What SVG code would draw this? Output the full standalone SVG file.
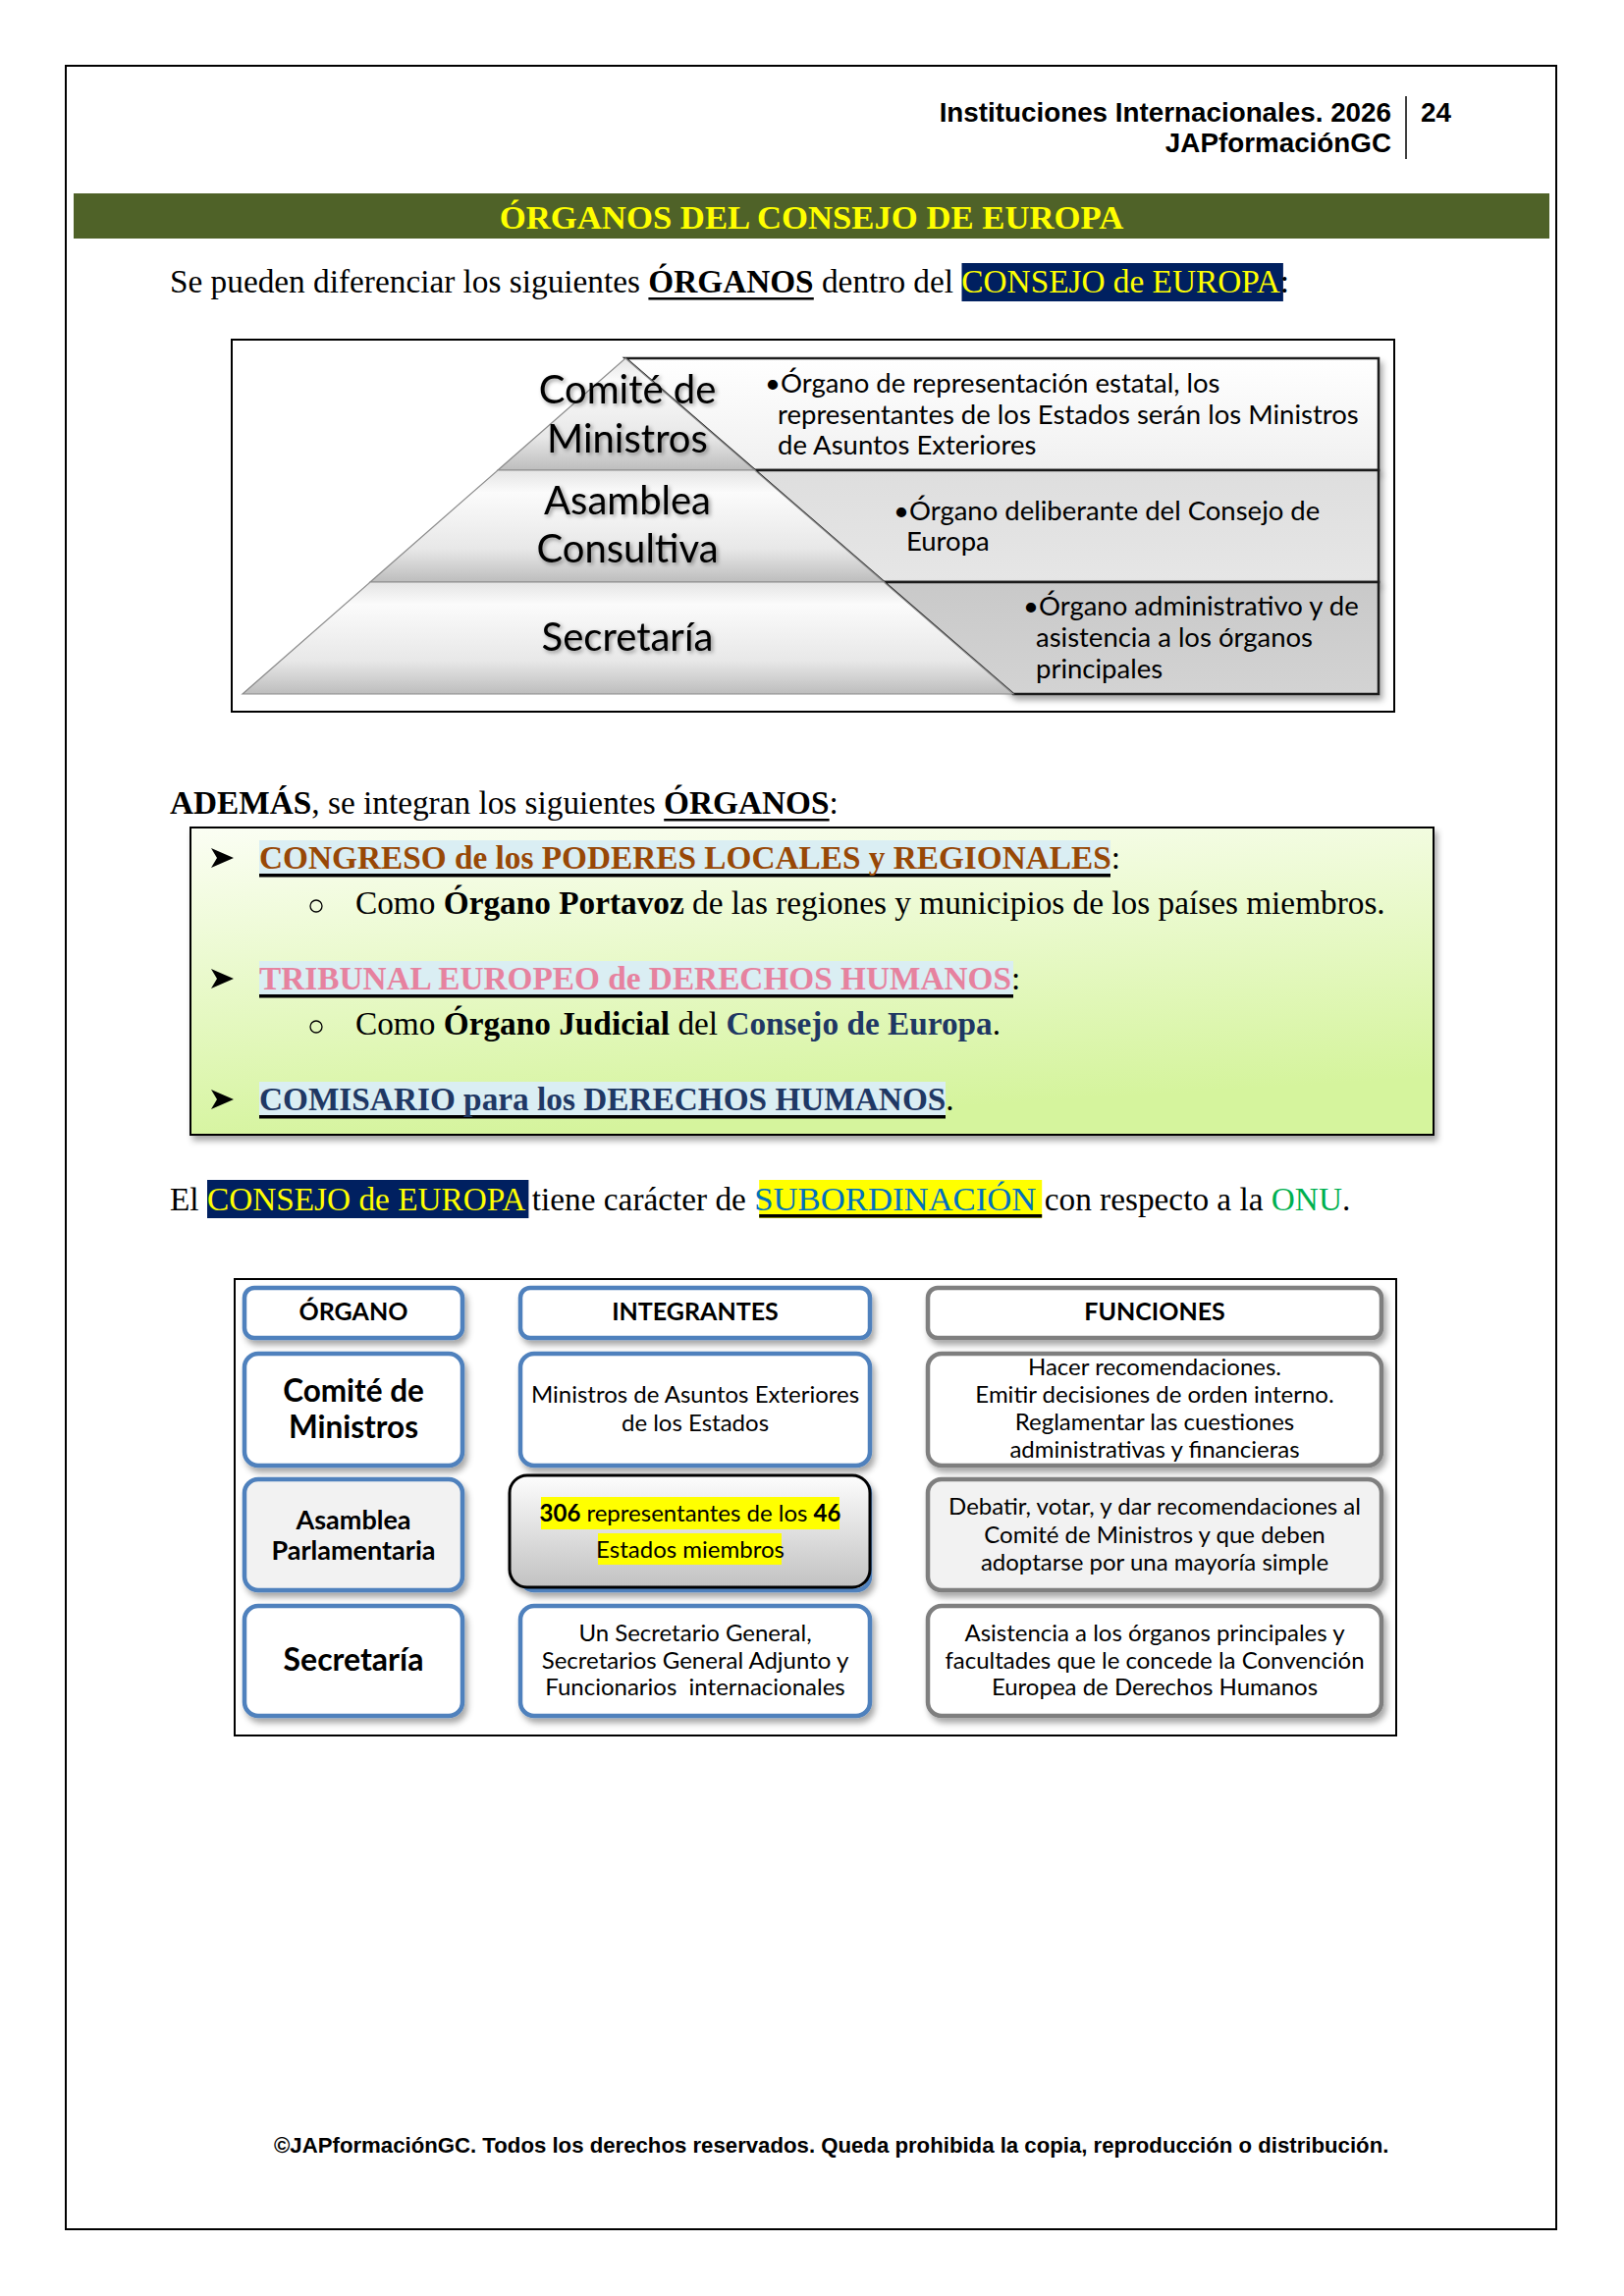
<svg xmlns="http://www.w3.org/2000/svg" width="1654" height="2339" viewBox="0 0 1654 2339">
<defs>
<style>
.hdr{font-family:"Liberation Sans",Arial,sans-serif;font-weight:bold;font-size:27.8px;fill:#000}
.ftr{font-family:"Liberation Sans",Arial,sans-serif;font-weight:bold;font-size:22.2px;fill:#000}
.ser{font-family:"Liberation Serif","Times New Roman",serif;font-size:33.3px;fill:#000}
.b{font-weight:bold}
.pyr{font-family:Lato,"Open Sans",sans-serif;font-size:40px;fill:#000;text-anchor:middle}
.desc{font-family:Lato,"Open Sans",sans-serif;font-size:27.5px;fill:#000}
.th{font-family:Lato,"Open Sans",sans-serif;font-size:25px;font-weight:bold;fill:#000;text-anchor:middle}
.tb{font-family:Lato,"Open Sans",sans-serif;font-weight:bold;fill:#000;text-anchor:middle}
.tr{font-family:Lato,"Open Sans",sans-serif;font-size:24px;fill:#000;text-anchor:middle}
.blue{fill:#fff;stroke:#4f81bd;stroke-width:4.5}
.gray{fill:#fff;stroke:#7f7f7f;stroke-width:4.5}
.lay{stroke:#8c8c8c;stroke-width:1.2}
.rbox{stroke:#1a1a1a;stroke-width:2.5}
.bul{fill:none;stroke:#000;stroke-width:1.3}
</style>
<linearGradient id="gGreen" x1="0" y1="0" x2="0.25" y2="1">
<stop offset="0" stop-color="#fbfef4"/>
<stop offset="1" stop-color="#d5f49d"/>
</linearGradient>
<linearGradient id="gLayer" x1="0" y1="0" x2="0" y2="1">
<stop offset="0" stop-color="#e4e4e4"/>
<stop offset="0.2" stop-color="#fbfbfb"/>
<stop offset="0.7" stop-color="#e8e8e8"/>
<stop offset="1" stop-color="#bdbdbd"/>
</linearGradient>
<linearGradient id="gB1" x1="0" y1="0" x2="0" y2="1">
<stop offset="0" stop-color="#ffffff"/>
<stop offset="1" stop-color="#f0f0f0"/>
</linearGradient>
<linearGradient id="gB2" x1="0" y1="0" x2="0" y2="1">
<stop offset="0" stop-color="#dedede"/>
<stop offset="1" stop-color="#e6e6e6"/>
</linearGradient>
<linearGradient id="gB3" x1="0" y1="0" x2="0" y2="1">
<stop offset="0" stop-color="#c9c9c9"/>
<stop offset="1" stop-color="#d3d3d3"/>
</linearGradient>
<linearGradient id="gCell" x1="0" y1="0" x2="0" y2="1">
<stop offset="0" stop-color="#fdfdfd"/>
<stop offset="1" stop-color="#c2c2c2"/>
</linearGradient>
<filter id="sh" x="-10%" y="-10%" width="125%" height="140%">
<feDropShadow dx="3" dy="5" stdDeviation="3" flood-color="#000" flood-opacity="0.35"/>
</filter>
<filter id="tsh" x="-10%" y="-20%" width="125%" height="150%">
<feDropShadow dx="2" dy="2" stdDeviation="2" flood-color="#000" flood-opacity="0.4"/>
</filter>
</defs>

<rect x="0" y="0" width="1654" height="2339" fill="#fff"/>
<rect x="67" y="67" width="1518" height="2204" fill="none" stroke="#000" stroke-width="2"/>

<g id="header">
<text class="hdr" x="1417" y="124" text-anchor="end">Instituciones Internacionales. 2026</text>
<text class="hdr" x="1417" y="155" text-anchor="end">JAPformaciónGC</text>
<line x1="1432" y1="98" x2="1432" y2="162" stroke="#000" stroke-width="1.5"/>
<text class="hdr" x="1447" y="124">24</text>
</g>

<g id="banner">
<rect x="75" y="197" width="1503" height="46" fill="#4f6228"/>
<text x="826.5" y="233" text-anchor="middle" font-family="'Liberation Serif','Times New Roman',serif" font-weight="bold" font-size="34.7" fill="#ffff00">ÓRGANOS DEL CONSEJO DE EUROPA</text>
</g>

<g id="intro">
<rect x="979.5" y="268" width="327.4" height="39" fill="#002060"/>
<rect x="660.4" y="303" width="168.4" height="2.5" fill="#000"/>
<text class="ser" x="173" y="298">Se pueden diferenciar los siguientes <tspan class="b">ÓRGANOS</tspan> dentro del <tspan fill="#ffff00">CONSEJO de EUROPA</tspan>:</text>
</g>

<g id="pyramid">
<rect x="236" y="346" width="1184" height="379" fill="#fff" stroke="#000" stroke-width="2"/>
<g id="box-comite" filter="url(#sh)">
<polygon class="rbox" points="637,365 1404,365 1404,479 768.7,479" fill="url(#gB1)"/>
</g>
<g id="box-asamblea" filter="url(#sh)">
<polygon class="rbox" points="768.7,479 1404,479 1404,593 900.3,593" fill="url(#gB2)"/>
</g>
<g id="box-secretaria" filter="url(#sh)">
<polygon class="rbox" points="900.3,593 1404,593 1404,707 1032,707" fill="url(#gB3)"/>
</g>
<g id="layer-comite">
<polygon class="lay" points="637,365 768.7,479 507,479" fill="url(#gLayer)"/>
</g>
<g id="layer-asamblea">
<polygon class="lay" points="507,479 768.7,479 900.3,593 377,593" fill="url(#gLayer)"/>
</g>
<g id="layer-secretaria">
<polygon class="lay" points="377,593 900.3,593 1032,707 247,707" fill="url(#gLayer)"/>
</g>
<g filter="url(#tsh)">
<text class="pyr" x="639" y="411">Comité de</text>
<text class="pyr" x="639" y="461">Ministros</text>
<text class="pyr" x="639" y="524">Asamblea</text>
<text class="pyr" x="639" y="573">Consultiva</text>
<text class="pyr" x="639" y="663">Secretaría</text>
</g>
<text class="desc" x="779" y="400">•Órgano de representación estatal, los</text>
<text class="desc" x="792" y="432">representantes de los Estados serán los Ministros</text>
<text class="desc" x="792" y="463">de Asuntos Exteriores</text>
<text class="desc" x="910" y="530">•Órgano deliberante del Consejo de</text>
<text class="desc" x="923" y="561">Europa</text>
<text class="desc" x="1042" y="627">•Órgano administrativo y de</text>
<text class="desc" x="1055" y="659">asistencia a los órganos</text>
<text class="desc" x="1055" y="691">principales</text>
</g>

<g id="ademas">
<rect x="676.2" y="834" width="168.4" height="2.5" fill="#000"/>
<text class="ser" x="173" y="829"><tspan class="b">ADEMÁS</tspan>, se integran los siguientes <tspan class="b">ÓRGANOS</tspan>:</text>
</g>

<g id="organos-list">
<rect x="194" y="843" width="1266" height="313" fill="url(#gGreen)" stroke="#000" stroke-width="2" filter="url(#sh)"/>
<g id="item-congreso">
<polygon points="215,864 238,874 215,884 221,874" fill="#000"/>
<rect x="264" y="856" width="867" height="37" fill="#daeef3"/>
<rect x="264" y="890" width="867" height="3.5" fill="#000"/>
<text class="ser b" x="264" y="885"><tspan fill="#984806">CONGRESO de los PODERES LOCALES y REGIONALES</tspan><tspan font-weight="normal">:</tspan></text>
<circle class="bul" cx="322" cy="923" r="6"/>
<text class="ser" x="362" y="931">Como <tspan class="b">Órgano Portavoz</tspan> de las regiones y municipios de los países miembros.</text>
</g>
<g id="item-tribunal">
<polygon points="215,987 238,997 215,1007 221,997" fill="#000"/>
<rect x="264" y="979" width="768" height="37" fill="#daeef3"/>
<rect x="264" y="1013" width="768" height="3.5" fill="#000"/>
<text class="ser b" x="264" y="1008"><tspan fill="#e6829f">TRIBUNAL EUROPEO de DERECHOS HUMANOS</tspan><tspan font-weight="normal">:</tspan></text>
<circle class="bul" cx="322" cy="1046" r="6"/>
<text class="ser" x="362" y="1054">Como <tspan class="b">Órgano Judicial</tspan> del <tspan class="b" fill="#1f3864">Consejo de Europa</tspan>.</text>
</g>
<g id="item-comisario">
<polygon points="215,1110 238,1120 215,1130 221,1120" fill="#000"/>
<rect x="264" y="1102" width="699" height="37" fill="#daeef3"/>
<rect x="264" y="1136" width="699" height="3.5" fill="#000"/>
<text class="ser b" x="264" y="1131"><tspan fill="#1f3864">COMISARIO para los DERECHOS HUMANOS</tspan><tspan font-weight="normal">.</tspan></text>
</g>
</g>

<g id="subordinacion">
<rect x="211" y="1202" width="327.4" height="39" fill="#002060"/>
<rect x="773.2" y="1202" width="288" height="39" fill="#ffff00"/>
<rect x="773.2" y="1237" width="288" height="3.5" fill="#000"/>
<text class="ser" x="173" y="1233">El <tspan fill="#ffff00">CONSEJO de EUROPA</tspan> tiene carácter de <tspan fill="#0070c0" font-size="34.7">SUBORDINACIÓN</tspan> con respecto a la <tspan fill="#00b050">ONU</tspan>.</text>
</g>

<g id="table">
<rect x="239" y="1303" width="1183" height="465" fill="#fff" stroke="#000" stroke-width="2"/>
<g id="h-organo" filter="url(#sh)"><rect class="blue" x="249" y="1312" width="222" height="51" rx="10"/></g>
<g id="h-integrantes" filter="url(#sh)"><rect class="blue" x="530" y="1312" width="356" height="51" rx="10"/></g>
<g id="h-funciones" filter="url(#sh)"><rect class="gray" x="945" y="1312" width="462" height="51" rx="10"/></g>
<text class="th" x="360" y="1345">ÓRGANO</text>
<text class="th" x="708" y="1345">INTEGRANTES</text>
<text class="th" x="1176" y="1345">FUNCIONES</text>

<g id="r1-organo" filter="url(#sh)"><rect class="blue" x="249" y="1379" width="222" height="114" rx="14"/></g>
<g id="r1-integrantes" filter="url(#sh)"><rect class="blue" x="530" y="1379" width="356" height="114" rx="14"/></g>
<g id="r1-funciones" filter="url(#sh)"><rect class="gray" x="945" y="1379" width="462" height="114" rx="14"/></g>
<text class="tb" x="360" y="1428" font-size="31.5">Comité de</text>
<text class="tb" x="360" y="1465" font-size="31.5">Ministros</text>
<text class="tr" x="708" y="1429">Ministros de Asuntos Exteriores</text>
<text class="tr" x="708" y="1458">de los Estados</text>
<text class="tr" x="1176" y="1401">Hacer recomendaciones.</text>
<text class="tr" x="1176" y="1429">Emitir decisiones de orden interno.</text>
<text class="tr" x="1176" y="1457">Reglamentar las cuestiones</text>
<text class="tr" x="1176" y="1485">administrativas y financieras</text>

<g id="r2-organo" filter="url(#sh)"><rect class="blue" x="249" y="1507" width="222" height="113" rx="14" style="fill:#f2f2f2"/></g>
<g id="r2-integrantes" filter="url(#sh)">
<rect class="blue" x="530" y="1507" width="356" height="113" rx="14"/>
<rect x="519" y="1503" width="367" height="114" rx="18" fill="url(#gCell)" stroke="#000" stroke-width="3"/>
</g>
<g id="r2-funciones" filter="url(#sh)"><rect class="gray" x="945" y="1507" width="462" height="113" rx="14" style="fill:#f2f2f2"/></g>
<text class="tb" x="360" y="1558" font-size="27">Asamblea</text>
<text class="tb" x="360" y="1589" font-size="27">Parlamentaria</text>
<rect x="551" y="1525" width="304" height="33" fill="#ffff00"/>
<rect x="609" y="1562" width="187" height="32" fill="#ffff00"/>
<text class="tr" x="703" y="1550"><tspan font-weight="bold">306</tspan> representantes de los <tspan font-weight="bold">46</tspan></text>
<text class="tr" x="703" y="1587">Estados miembros</text>
<text class="tr" x="1176" y="1543">Debatir, votar, y dar recomendaciones al</text>
<text class="tr" x="1176" y="1572">Comité de Ministros y que deben</text>
<text class="tr" x="1176" y="1600">adoptarse por una mayoría simple</text>

<g id="r3-organo" filter="url(#sh)"><rect class="blue" x="249" y="1636" width="222" height="112" rx="14"/></g>
<g id="r3-integrantes" filter="url(#sh)"><rect class="blue" x="530" y="1636" width="356" height="112" rx="14"/></g>
<g id="r3-funciones" filter="url(#sh)"><rect class="gray" x="945" y="1636" width="462" height="112" rx="14"/></g>
<text class="tb" x="360" y="1702" font-size="32">Secretaría</text>
<text class="tr" x="708" y="1672">Un Secretario General,</text>
<text class="tr" x="708" y="1700">Secretarios General Adjunto y</text>
<text class="tr" x="708" y="1727" xml:space="preserve">Funcionarios  internacionales</text>
<text class="tr" x="1176" y="1672">Asistencia a los órganos principales y</text>
<text class="tr" x="1176" y="1700">facultades que le concede la Convención</text>
<text class="tr" x="1176" y="1727">Europea de Derechos Humanos</text>
</g>

<g id="footer">
<text class="ftr" x="279" y="2193">©JAPformaciónGC. Todos los derechos reservados. Queda prohibida la copia, reproducción o distribución.</text>
</g>
</svg>
